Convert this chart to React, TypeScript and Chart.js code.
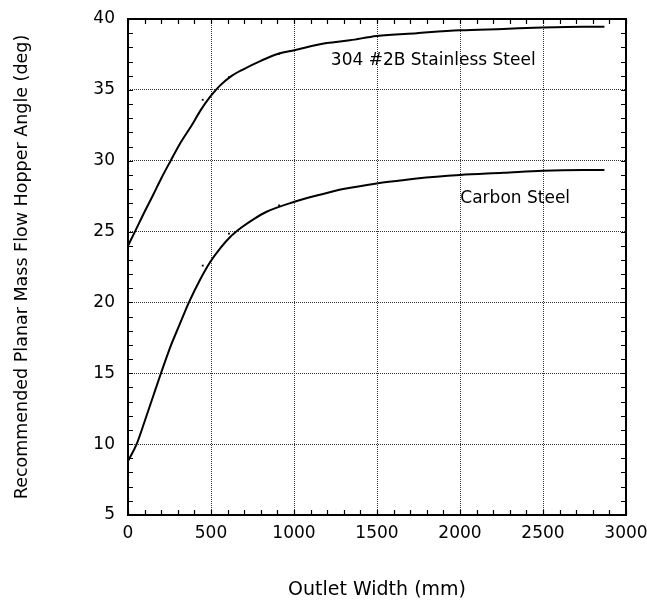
import React, { useEffect, useRef } from 'react';
import { Chart, registerables } from 'chart.js';

Chart.register(...registerables);

// Outlet width (mm) and recommended hopper angle (deg)
const stainlessX = [0, 42, 100, 152, 200, 257, 313, 384, 434, 494, 530, 554, 614, 695, 800, 906, 1002, 1197, 1337, 1498, 1739, 2000, 2261, 2498, 2743, 2870];
const stainlessY = [24.0, 25.0, 26.4, 27.6, 28.75, 30.0, 31.2, 32.5, 33.5, 34.5, 35.0, 35.3, 35.9, 36.45, 37.05, 37.55, 37.8, 38.3, 38.5, 38.8, 39.0, 39.2, 39.3, 39.4, 39.45, 39.45];

const carbonX = [0, 52, 100, 152, 197, 253, 313, 367, 434, 498, 554, 614, 685, 760, 835, 1002, 1157, 1297, 1498, 1639, 1739, 2000, 2261, 2498, 2743, 2870];
const carbonY = [8.8, 10.0, 11.6, 13.4, 14.95, 16.8, 18.5, 20.0, 21.6, 22.9, 23.8, 24.6, 25.3, 25.9, 26.4, 27.1, 27.6, 28.0, 28.4, 28.6, 28.75, 29.0, 29.15, 29.3, 29.35, 29.35];

// small data marks near the curves
const dotX = [450, 608, 910];
const stainlessDotY = [34.3, 35.9, 37.55];
const carbonDotY = [22.6, 24.85, 26.85];

const xTicks = [0, 500, 1000, 1500, 2000, 2500, 3000];
const yTicks = [5, 10, 15, 20, 25, 30, 35, 40];
const xMinorStep = 100;
const yMinorStep = 1;

const curveLabels = ['304 #2B Stainless Steel', 'Carbon Steel'];
const curveLabelX = [1222, 2002];
const curveLabelY = [36.75, 26.99];

const xTitle = 'Outlet Width (mm)';
const yTitle = 'Recommended Planar Mass Flow Hopper Angle (deg)';

const FONT = "'DejaVu Sans', sans-serif";

const toPts = (xs: number[], ys: number[]) => xs.map((x, i) => ({ x, y: ys[i] }));

const framePlugin = {
  id: 'frameTicks',
  afterDatasetsDraw(chart: any) {
    const { ctx, chartArea, scales } = chart;
    const { left, right, top, bottom } = chartArea;
    const xs = scales.x;
    const ys = scales.y;
    ctx.save();
    // curve labels
    ctx.fillStyle = '#000';
    ctx.font = `17px ${FONT}`;
    ctx.textAlign = 'left';
    ctx.textBaseline = 'alphabetic';
    curveLabels.forEach((t, i) => {
      ctx.fillText(t, xs.getPixelForValue(curveLabelX[i]), ys.getPixelForValue(curveLabelY[i]));
    });
    // inward minor ticks
    ctx.strokeStyle = '#000';
    ctx.lineWidth = 1.2;
    const tl = 5;
    ctx.beginPath();
    for (let v = xs.min; v <= xs.max + 1e-6; v += xMinorStep) {
      const p = Math.round(xs.getPixelForValue(v)) + 0.5;
      ctx.moveTo(p, bottom);
      ctx.lineTo(p, bottom - tl);
      ctx.moveTo(p, top);
      ctx.lineTo(p, top + tl);
    }
    for (let v = ys.min; v <= ys.max + 1e-6; v += yMinorStep) {
      const p = Math.round(ys.getPixelForValue(v)) + 0.5;
      ctx.moveTo(left, p);
      ctx.lineTo(left + tl, p);
      ctx.moveTo(right, p);
      ctx.lineTo(right - tl, p);
    }
    ctx.stroke();
    // frame
    ctx.lineWidth = 2;
    ctx.strokeRect(left, top, right - left, bottom - top);
    ctx.restore();
  },
};

export default function App() {
  const canvasRef = useRef<HTMLCanvasElement | null>(null);

  useEffect(() => {
    if (!canvasRef.current) return;
    const chart = new Chart(canvasRef.current, {
      type: 'scatter',
      data: {
        datasets: [
          {
            label: curveLabels[0],
            data: toPts(stainlessX, stainlessY),
            showLine: true,
            borderColor: '#000',
            borderWidth: 2,
            pointRadius: 0,
            cubicInterpolationMode: 'monotone',
          },
          {
            label: curveLabels[1],
            data: toPts(carbonX, carbonY),
            showLine: true,
            borderColor: '#000',
            borderWidth: 2,
            pointRadius: 0,
            cubicInterpolationMode: 'monotone',
          },
          {
            label: 'marks1',
            data: toPts(dotX, stainlessDotY),
            showLine: false,
            pointStyle: 'rect',
            pointRadius: 1.3,
            backgroundColor: '#000',
            borderColor: '#000',
            borderWidth: 0,
          },
          {
            label: 'marks2',
            data: toPts(dotX, carbonDotY),
            showLine: false,
            pointStyle: 'rect',
            pointRadius: 1.3,
            backgroundColor: '#000',
            borderColor: '#000',
            borderWidth: 0,
          },
        ],
      } as any,
      options: {
        animation: false,
        responsive: true,
        maintainAspectRatio: false,
        layout: { padding: { left: 0, top: 19, right: 21, bottom: 0 } },
        plugins: {
          legend: { display: false },
          tooltip: { enabled: false },
        },
        scales: {
          x: {
            type: 'linear',
            min: 0,
            max: 3000,
            afterBuildTicks: (axis: any) => {
              axis.ticks = xTicks.map((v) => ({ value: v }));
            },
            afterFit: (axis: any) => {
              axis.height = 87;
              axis.paddingLeft = 0;
              axis.paddingRight = 0;
            },
            ticks: {
              color: '#000',
              padding: 8,
              maxRotation: 0,
              autoSkip: false,
              font: { family: FONT, size: 17 },
              callback: (v: any) => String(v),
            },
            grid: {
              color: '#333',
              lineWidth: 1,
              drawTicks: false,
            },
            border: { display: false, dash: [1, 1] },
            title: {
              display: true,
              text: xTitle,
              color: '#000',
              font: { family: FONT, size: 19 },
              padding: { top: 0, bottom: 1 },
            },
          },
          y: {
            type: 'linear',
            min: 5,
            max: 40,
            afterBuildTicks: (axis: any) => {
              axis.ticks = yTicks.map((v) => ({ value: v }));
            },
            afterFit: (axis: any) => {
              axis.width = 128;
              axis.paddingTop = 0;
              axis.paddingBottom = 0;
            },
            ticks: {
              color: '#000',
              padding: 13,
              autoSkip: false,
              font: { family: FONT, size: 17 },
              callback: (v: any) => String(v),
            },
            grid: {
              color: '#333',
              lineWidth: 1,
              drawTicks: false,
            },
            border: { display: false, dash: [1, 1] },
            title: {
              display: true,
              text: yTitle,
              color: '#000',
              font: { family: FONT, size: 17.5 },
              padding: { top: 12, bottom: 0 },
            },
          },
        },
      } as any,
      plugins: [framePlugin],
    });
    return () => chart.destroy();
  }, []);

  return (
    <div style={{ position: 'fixed', left: 0, top: 0, width: 647, height: 602, background: '#fff' }}>
      <canvas ref={canvasRef} />
    </div>
  );
}
